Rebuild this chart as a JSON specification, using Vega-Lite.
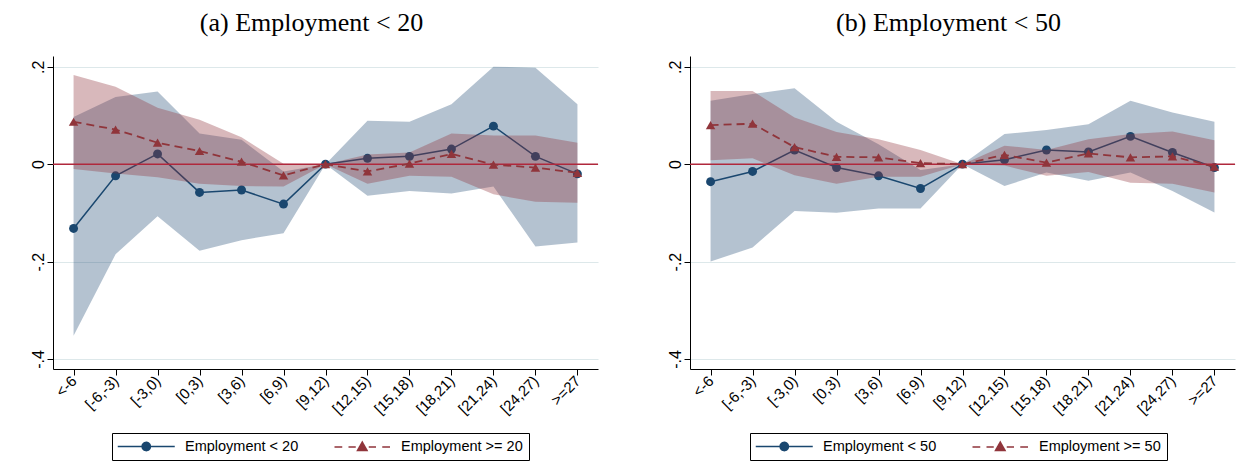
{
  "$schema": "https://vega.github.io/schema/vega-lite/v6.json",
  "background": "white",
  "padding": {"left": 30, "top": 10, "right": 5, "bottom": 3},
  "data": {"values": [
    {"p":"a","g":"s","series":"Employment < 20","bin":"<-6","est":-0.132,"lo":-0.352,"hi":0.097},
    {"p":"a","g":"s","series":"Employment < 20","bin":"[-6,-3)","est":-0.024,"lo":-0.185,"hi":0.138},
    {"p":"a","g":"s","series":"Employment < 20","bin":"[-3,0)","est":0.021,"lo":-0.107,"hi":0.149},
    {"p":"a","g":"s","series":"Employment < 20","bin":"[0,3)","est":-0.058,"lo":-0.178,"hi":0.063},
    {"p":"a","g":"s","series":"Employment < 20","bin":"[3,6)","est":-0.053,"lo":-0.156,"hi":0.05},
    {"p":"a","g":"s","series":"Employment < 20","bin":"[6,9)","est":-0.082,"lo":-0.142,"hi":-0.015},
    {"p":"a","g":"s","series":"Employment < 20","bin":"[9,12)","est":0,"lo":0,"hi":0},
    {"p":"a","g":"s","series":"Employment < 20","bin":"[12,15)","est":0.012,"lo":-0.065,"hi":0.089},
    {"p":"a","g":"s","series":"Employment < 20","bin":"[15,18)","est":0.016,"lo":-0.055,"hi":0.087},
    {"p":"a","g":"s","series":"Employment < 20","bin":"[18,21)","est":0.031,"lo":-0.06,"hi":0.123},
    {"p":"a","g":"s","series":"Employment < 20","bin":"[21,24)","est":0.078,"lo":-0.046,"hi":0.2},
    {"p":"a","g":"s","series":"Employment < 20","bin":"[24,27)","est":0.016,"lo":-0.169,"hi":0.198},
    {"p":"a","g":"s","series":"Employment < 20","bin":">=27","est":-0.02,"lo":-0.161,"hi":0.123},
    {"p":"a","g":"l","series":"Employment >= 20","bin":"<-6","est":0.087,"lo":-0.01,"hi":0.183},
    {"p":"a","g":"l","series":"Employment >= 20","bin":"[-6,-3)","est":0.071,"lo":-0.019,"hi":0.159},
    {"p":"a","g":"l","series":"Employment >= 20","bin":"[-3,0)","est":0.044,"lo":-0.027,"hi":0.116},
    {"p":"a","g":"l","series":"Employment >= 20","bin":"[0,3)","est":0.027,"lo":-0.04,"hi":0.091},
    {"p":"a","g":"l","series":"Employment >= 20","bin":"[3,6)","est":0.005,"lo":-0.045,"hi":0.055},
    {"p":"a","g":"l","series":"Employment >= 20","bin":"[6,9)","est":-0.023,"lo":-0.046,"hi":0.001},
    {"p":"a","g":"l","series":"Employment >= 20","bin":"[9,12)","est":0,"lo":0,"hi":0},
    {"p":"a","g":"l","series":"Employment >= 20","bin":"[12,15)","est":-0.015,"lo":-0.04,"hi":0.02},
    {"p":"a","g":"l","series":"Employment >= 20","bin":"[15,18)","est":0.001,"lo":-0.024,"hi":0.024},
    {"p":"a","g":"l","series":"Employment >= 20","bin":"[18,21)","est":0.021,"lo":-0.026,"hi":0.063},
    {"p":"a","g":"l","series":"Employment >= 20","bin":"[21,24)","est":-0.001,"lo":-0.062,"hi":0.059},
    {"p":"a","g":"l","series":"Employment >= 20","bin":"[24,27)","est":-0.007,"lo":-0.077,"hi":0.059},
    {"p":"a","g":"l","series":"Employment >= 20","bin":">=27","est":-0.018,"lo":-0.079,"hi":0.044},
    {"p":"b","g":"s","series":"Employment < 50","bin":"<-6","est":-0.036,"lo":-0.2,"hi":0.13},
    {"p":"b","g":"s","series":"Employment < 50","bin":"[-6,-3)","est":-0.015,"lo":-0.171,"hi":0.144},
    {"p":"b","g":"s","series":"Employment < 50","bin":"[-3,0)","est":0.029,"lo":-0.096,"hi":0.156},
    {"p":"b","g":"s","series":"Employment < 50","bin":"[0,3)","est":-0.007,"lo":-0.1,"hi":0.087},
    {"p":"b","g":"s","series":"Employment < 50","bin":"[3,6)","est":-0.024,"lo":-0.091,"hi":0.041},
    {"p":"b","g":"s","series":"Employment < 50","bin":"[6,9)","est":-0.05,"lo":-0.091,"hi":-0.012},
    {"p":"b","g":"s","series":"Employment < 50","bin":"[9,12)","est":0,"lo":0,"hi":0},
    {"p":"b","g":"s","series":"Employment < 50","bin":"[12,15)","est":0.009,"lo":-0.045,"hi":0.062},
    {"p":"b","g":"s","series":"Employment < 50","bin":"[15,18)","est":0.029,"lo":-0.017,"hi":0.07},
    {"p":"b","g":"s","series":"Employment < 50","bin":"[18,21)","est":0.025,"lo":-0.034,"hi":0.082},
    {"p":"b","g":"s","series":"Employment < 50","bin":"[21,24)","est":0.057,"lo":-0.017,"hi":0.13},
    {"p":"b","g":"s","series":"Employment < 50","bin":"[24,27)","est":0.024,"lo":-0.055,"hi":0.106},
    {"p":"b","g":"s","series":"Employment < 50","bin":">=27","est":-0.007,"lo":-0.099,"hi":0.087},
    {"p":"b","g":"l","series":"Employment >= 50","bin":"<-6","est":0.08,"lo":0.008,"hi":0.15},
    {"p":"b","g":"l","series":"Employment >= 50","bin":"[-6,-3)","est":0.083,"lo":0.012,"hi":0.15},
    {"p":"b","g":"l","series":"Employment >= 50","bin":"[-3,0)","est":0.035,"lo":-0.023,"hi":0.096},
    {"p":"b","g":"l","series":"Employment >= 50","bin":"[0,3)","est":0.015,"lo":-0.04,"hi":0.066},
    {"p":"b","g":"l","series":"Employment >= 50","bin":"[3,6)","est":0.014,"lo":-0.026,"hi":0.051},
    {"p":"b","g":"l","series":"Employment >= 50","bin":"[6,9)","est":0.002,"lo":-0.026,"hi":0.029},
    {"p":"b","g":"l","series":"Employment >= 50","bin":"[9,12)","est":0,"lo":0,"hi":0},
    {"p":"b","g":"l","series":"Employment >= 50","bin":"[12,15)","est":0.019,"lo":-0.003,"hi":0.038},
    {"p":"b","g":"l","series":"Employment >= 50","bin":"[15,18)","est":0.003,"lo":-0.024,"hi":0.029},
    {"p":"b","g":"l","series":"Employment >= 50","bin":"[18,21)","est":0.022,"lo":-0.016,"hi":0.051},
    {"p":"b","g":"l","series":"Employment >= 50","bin":"[21,24)","est":0.014,"lo":-0.038,"hi":0.062},
    {"p":"b","g":"l","series":"Employment >= 50","bin":"[24,27)","est":0.016,"lo":-0.04,"hi":0.067},
    {"p":"b","g":"l","series":"Employment >= 50","bin":">=27","est":-0.005,"lo":-0.058,"hi":0.049}
  ]},
  "hconcat": [
    {
      "width": 545, "height": 313,
      "title": {"text": "(a) Employment < 20", "font": "Liberation Serif", "fontSize": 26, "fontWeight": "normal", "color": "#000", "frame": "group", "anchor": "middle", "dx": -14, "offset": 20},
      "layer": [
        {"transform": [{"filter": "datum.p === 'a' && datum.g === 's'"}], "mark": {"type": "area", "color": "#1a476f", "opacity": 0.33},
         "encoding": {
           "x": {"field": "bin", "type": "ordinal", "title": null, "scale": {"type": "point", "padding": 0.49, "domain": ["<-6","[-6,-3)","[-3,0)","[0,3)","[3,6)","[6,9)","[9,12)","[12,15)","[15,18)","[18,21)","[21,24)","[24,27)",">=27"]}},
           "y": {"field": "lo", "type": "quantitative", "title": null, "scale": {"domain": [-0.4205, 0.222], "nice": false, "zero": false}, "axis": {"values": [-0.4, -0.2, 0, 0.2], "labelExpr": "datum.value > 0.1 ? '.2' : datum.value > -0.1 ? '0' : datum.value > -0.3 ? '-.2' : '-.4'"}},
           "y2": {"field": "hi"}}},
        {"transform": [{"filter": "datum.p === 'a' && datum.g === 's'"}], "mark": {"type": "line", "strokeWidth": 1.5},
         "encoding": {
           "x": {"field": "bin", "type": "ordinal", "title": null, "scale": {"type": "point", "padding": 0.49, "domain": ["<-6","[-6,-3)","[-3,0)","[0,3)","[3,6)","[6,9)","[9,12)","[12,15)","[15,18)","[18,21)","[21,24)","[24,27)",">=27"]}},
           "y": {"field": "est", "type": "quantitative", "title": null, "scale": {"domain": [-0.4205, 0.222], "nice": false, "zero": false}},
           "color": {"field": "series", "type": "nominal", "title": null, "scale": {"domain": ["Employment < 20", "Employment >= 20"], "range": ["#1a476f", "#90353b"]},
             "legend": {"orient": "none", "legendX": 59, "legendY": 377, "direction": "horizontal", "title": null,
               "encode": {"symbols": {"update": {
                 "shape": {"signal": "indexof(datum.value, '>=') >= 0 ? 'M-5.55,0H-4M-2.75,0H-1.3M1.3,0H2.75M4,0H5.55M0,-0.95L0.95,0.7L-0.95,0.7Z' : 'M-5.7,0H5.7M0.85,0L0.736,0.425L0.425,0.736L0,0.85L-0.425,0.736L-0.736,0.425L-0.85,0L-0.736,-0.425L-0.425,-0.736L0,-0.85L0.425,-0.736L0.736,-0.425Z'"},
                 "fill": {"signal": "indexof(datum.value, '>=') >= 0 ? '#90353b' : '#1a476f'"},
                 "stroke": {"signal": "indexof(datum.value, '>=') >= 0 ? '#90353b' : '#1a476f'"},
                 "strokeDash": {"value": [1, 0]},
                 "opacity": {"value": 1},
                 "fillOpacity": {"value": 1},
                 "strokeWidth": {"value": 1.5},
                 "size": {"value": 100}}}}}}}},
        {"transform": [{"filter": "datum.p === 'a' && datum.g === 's'"}], "mark": {"type": "point", "shape": "circle", "filled": true, "opacity": 1, "size": 80, "color": "#1a476f"},
         "encoding": {
           "x": {"field": "bin", "type": "ordinal", "title": null, "scale": {"type": "point", "padding": 0.49, "domain": ["<-6","[-6,-3)","[-3,0)","[0,3)","[3,6)","[6,9)","[9,12)","[12,15)","[15,18)","[18,21)","[21,24)","[24,27)",">=27"]}},
           "y": {"field": "est", "type": "quantitative", "title": null, "scale": {"domain": [-0.4205, 0.222], "nice": false, "zero": false}}}},
        {"transform": [{"filter": "datum.p === 'a' && datum.g === 'l'"}], "mark": {"type": "area", "color": "#90353b", "opacity": 0.35},
         "encoding": {
           "x": {"field": "bin", "type": "ordinal", "title": null, "scale": {"type": "point", "padding": 0.49, "domain": ["<-6","[-6,-3)","[-3,0)","[0,3)","[3,6)","[6,9)","[9,12)","[12,15)","[15,18)","[18,21)","[21,24)","[24,27)",">=27"]}},
           "y": {"field": "lo", "type": "quantitative", "title": null, "scale": {"domain": [-0.4205, 0.222], "nice": false, "zero": false}},
           "y2": {"field": "hi"}}},
        {"data": {"values": [{}]}, "mark": {"type": "rule", "color": "#b0283c", "strokeWidth": 1.5},
         "encoding": {"y": {"datum": 0, "type": "quantitative", "scale": {"domain": [-0.4205, 0.222], "nice": false, "zero": false}}}},
        {"transform": [{"filter": "datum.p === 'a' && datum.g === 'l'"}], "mark": {"type": "line", "strokeWidth": 1.8, "strokeDash": [8, 5]},
         "encoding": {
           "x": {"field": "bin", "type": "ordinal", "title": null, "scale": {"type": "point", "padding": 0.49, "domain": ["<-6","[-6,-3)","[-3,0)","[0,3)","[3,6)","[6,9)","[9,12)","[12,15)","[15,18)","[18,21)","[21,24)","[24,27)",">=27"]}},
           "y": {"field": "est", "type": "quantitative", "title": null, "scale": {"domain": [-0.4205, 0.222], "nice": false, "zero": false}},
           "color": {"field": "series", "type": "nominal", "title": null, "scale": {"domain": ["Employment < 20", "Employment >= 20"], "range": ["#1a476f", "#90353b"]}}}},
        {"transform": [{"filter": "datum.p === 'a' && datum.g === 'l'"}], "mark": {"type": "point", "shape": "triangle-up", "filled": true, "opacity": 1, "size": 90, "color": "#90353b"},
         "encoding": {
           "x": {"field": "bin", "type": "ordinal", "title": null, "scale": {"type": "point", "padding": 0.49, "domain": ["<-6","[-6,-3)","[-3,0)","[0,3)","[3,6)","[6,9)","[9,12)","[12,15)","[15,18)","[18,21)","[21,24)","[24,27)",">=27"]}},
           "y": {"field": "est", "type": "quantitative", "title": null, "scale": {"domain": [-0.4205, 0.222], "nice": false, "zero": false}}}}
      ]
    },
    {
      "width": 545, "height": 313,
      "title": {"text": "(b) Employment < 50", "font": "Liberation Serif", "fontSize": 26, "fontWeight": "normal", "color": "#000", "frame": "group", "anchor": "middle", "dx": -14, "offset": 20},
      "layer": [
        {"transform": [{"filter": "datum.p === 'b' && datum.g === 's'"}], "mark": {"type": "area", "color": "#1a476f", "opacity": 0.33},
         "encoding": {
           "x": {"field": "bin", "type": "ordinal", "title": null, "scale": {"type": "point", "padding": 0.49, "domain": ["<-6","[-6,-3)","[-3,0)","[0,3)","[3,6)","[6,9)","[9,12)","[12,15)","[15,18)","[18,21)","[21,24)","[24,27)",">=27"]}},
           "y": {"field": "lo", "type": "quantitative", "title": null, "scale": {"domain": [-0.4205, 0.222], "nice": false, "zero": false}, "axis": {"values": [-0.4, -0.2, 0, 0.2], "labelExpr": "datum.value > 0.1 ? '.2' : datum.value > -0.1 ? '0' : datum.value > -0.3 ? '-.2' : '-.4'"}},
           "y2": {"field": "hi"}}},
        {"transform": [{"filter": "datum.p === 'b' && datum.g === 's'"}], "mark": {"type": "line", "strokeWidth": 1.5},
         "encoding": {
           "x": {"field": "bin", "type": "ordinal", "title": null, "scale": {"type": "point", "padding": 0.49, "domain": ["<-6","[-6,-3)","[-3,0)","[0,3)","[3,6)","[6,9)","[9,12)","[12,15)","[15,18)","[18,21)","[21,24)","[24,27)",">=27"]}},
           "y": {"field": "est", "type": "quantitative", "title": null, "scale": {"domain": [-0.4205, 0.222], "nice": false, "zero": false}},
           "color": {"field": "series", "type": "nominal", "title": null, "scale": {"domain": ["Employment < 50", "Employment >= 50"], "range": ["#1a476f", "#90353b"]},
             "legend": {"orient": "none", "legendX": 60, "legendY": 377, "direction": "horizontal", "title": null,
               "encode": {"symbols": {"update": {
                 "shape": {"signal": "indexof(datum.value, '>=') >= 0 ? 'M-5.55,0H-4M-2.75,0H-1.3M1.3,0H2.75M4,0H5.55M0,-0.95L0.95,0.7L-0.95,0.7Z' : 'M-5.7,0H5.7M0.85,0L0.736,0.425L0.425,0.736L0,0.85L-0.425,0.736L-0.736,0.425L-0.85,0L-0.736,-0.425L-0.425,-0.736L0,-0.85L0.425,-0.736L0.736,-0.425Z'"},
                 "fill": {"signal": "indexof(datum.value, '>=') >= 0 ? '#90353b' : '#1a476f'"},
                 "stroke": {"signal": "indexof(datum.value, '>=') >= 0 ? '#90353b' : '#1a476f'"},
                 "strokeDash": {"value": [1, 0]},
                 "opacity": {"value": 1},
                 "fillOpacity": {"value": 1},
                 "strokeWidth": {"value": 1.5},
                 "size": {"value": 100}}}}}}}},
        {"transform": [{"filter": "datum.p === 'b' && datum.g === 's'"}], "mark": {"type": "point", "shape": "circle", "filled": true, "opacity": 1, "size": 80, "color": "#1a476f"},
         "encoding": {
           "x": {"field": "bin", "type": "ordinal", "title": null, "scale": {"type": "point", "padding": 0.49, "domain": ["<-6","[-6,-3)","[-3,0)","[0,3)","[3,6)","[6,9)","[9,12)","[12,15)","[15,18)","[18,21)","[21,24)","[24,27)",">=27"]}},
           "y": {"field": "est", "type": "quantitative", "title": null, "scale": {"domain": [-0.4205, 0.222], "nice": false, "zero": false}}}},
        {"transform": [{"filter": "datum.p === 'b' && datum.g === 'l'"}], "mark": {"type": "area", "color": "#90353b", "opacity": 0.35},
         "encoding": {
           "x": {"field": "bin", "type": "ordinal", "title": null, "scale": {"type": "point", "padding": 0.49, "domain": ["<-6","[-6,-3)","[-3,0)","[0,3)","[3,6)","[6,9)","[9,12)","[12,15)","[15,18)","[18,21)","[21,24)","[24,27)",">=27"]}},
           "y": {"field": "lo", "type": "quantitative", "title": null, "scale": {"domain": [-0.4205, 0.222], "nice": false, "zero": false}},
           "y2": {"field": "hi"}}},
        {"data": {"values": [{}]}, "mark": {"type": "rule", "color": "#b0283c", "strokeWidth": 1.5},
         "encoding": {"y": {"datum": 0, "type": "quantitative", "scale": {"domain": [-0.4205, 0.222], "nice": false, "zero": false}}}},
        {"transform": [{"filter": "datum.p === 'b' && datum.g === 'l'"}], "mark": {"type": "line", "strokeWidth": 1.8, "strokeDash": [8, 5]},
         "encoding": {
           "x": {"field": "bin", "type": "ordinal", "title": null, "scale": {"type": "point", "padding": 0.49, "domain": ["<-6","[-6,-3)","[-3,0)","[0,3)","[3,6)","[6,9)","[9,12)","[12,15)","[15,18)","[18,21)","[21,24)","[24,27)",">=27"]}},
           "y": {"field": "est", "type": "quantitative", "title": null, "scale": {"domain": [-0.4205, 0.222], "nice": false, "zero": false}},
           "color": {"field": "series", "type": "nominal", "title": null, "scale": {"domain": ["Employment < 50", "Employment >= 50"], "range": ["#1a476f", "#90353b"]}}}},
        {"transform": [{"filter": "datum.p === 'b' && datum.g === 'l'"}], "mark": {"type": "point", "shape": "triangle-up", "filled": true, "opacity": 1, "size": 90, "color": "#90353b"},
         "encoding": {
           "x": {"field": "bin", "type": "ordinal", "title": null, "scale": {"type": "point", "padding": 0.49, "domain": ["<-6","[-6,-3)","[-3,0)","[0,3)","[3,6)","[6,9)","[9,12)","[12,15)","[15,18)","[18,21)","[21,24)","[24,27)",">=27"]}},
           "y": {"field": "est", "type": "quantitative", "title": null, "scale": {"domain": [-0.4205, 0.222], "nice": false, "zero": false}}}}
      ]
    }
  ],
  "spacing": 92,
  "bounds": "flush",
  "resolve": {"scale": {"color": "independent", "x": "independent", "y": "independent"}, "legend": {"color": "independent"}},
  "config": {
    "view": {"stroke": null},
    "axis": {"domainColor": "#000", "tickColor": "#000", "labelColor": "#000", "labelFont": "Liberation Sans", "domainWidth": 1, "tickWidth": 1, "tickSize": 6},
    "axisX": {"labelFontSize": 15, "grid": false, "labelAngle": -45, "labelAlign": "right", "labelBaseline": "middle", "labelPadding": 3},
    "axisY": {"labelFontSize": 16, "grid": true, "gridColor": "#dde8ea", "gridWidth": 1.2, "labelAngle": -90, "labelAlign": "center", "labelBaseline": "alphabetic", "labelPadding": 4},
    "legend": {"padding": 6, "strokeColor": "#000", "fillColor": "#fff", "labelFont": "Liberation Sans", "labelFontSize": 14.5, "labelColor": "#000", "labelLimit": 0, "columnPadding": 32, "symbolSize": 100, "symbolStrokeWidth": 1.5, "symbolOffset": 21, "labelOffset": 31.5}
  }
}
